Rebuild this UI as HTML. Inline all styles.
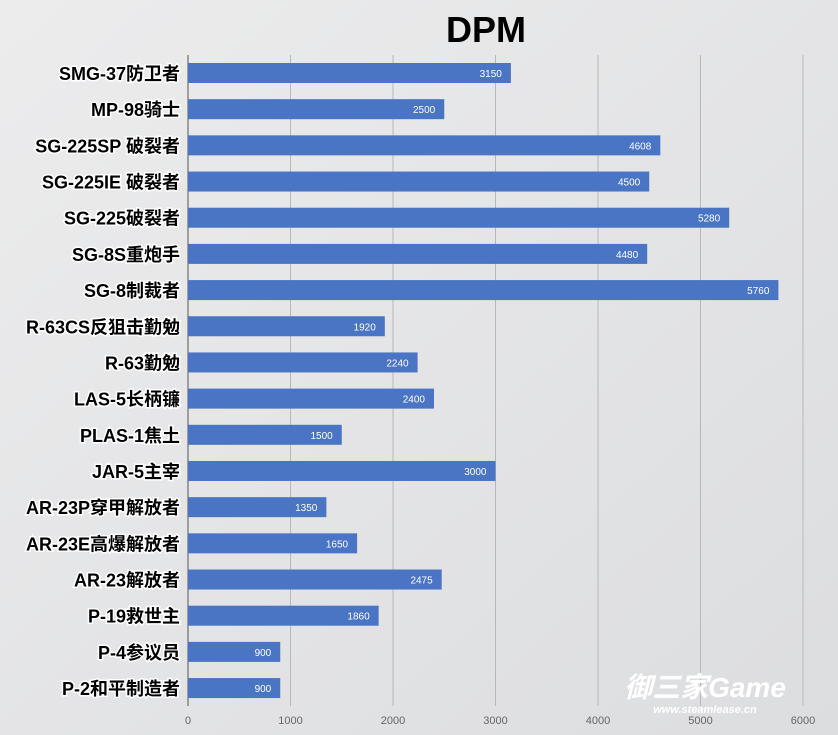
<!DOCTYPE html>
<html><head><meta charset="utf-8"><style>
body{margin:0;background:#e4e5e6;}
svg{display:block}
</style></head><body>
<svg width="838" height="735" xmlns="http://www.w3.org/2000/svg">
<defs><linearGradient id="bg" x1="0" y1="0" x2="1" y2="1"><stop offset="0" stop-color="#ececed"/><stop offset="1" stop-color="#dcdddf"/></linearGradient></defs>
<rect width="838" height="735" fill="url(#bg)"/>
<text x="486" y="42" text-anchor="middle" font-family="Liberation Sans, sans-serif" font-weight="bold" font-size="36" fill="#000">DPM</text>
<g stroke="#b8b8b8" stroke-width="1">
<line x1="290.5" y1="55" x2="290.5" y2="706"/><line x1="393" y1="55" x2="393" y2="706"/><line x1="495.5" y1="55" x2="495.5" y2="706"/><line x1="598" y1="55" x2="598" y2="706"/><line x1="700.5" y1="55" x2="700.5" y2="706"/><line x1="803" y1="55" x2="803" y2="706"/>
</g>
<line x1="188" y1="55" x2="188" y2="706" stroke="#555" stroke-width="1"/>
<g font-family="Liberation Sans, sans-serif" font-size="11" fill="#666" text-anchor="middle">
<text x="188" y="724">0</text><text x="290.5" y="724">1000</text><text x="393" y="724">2000</text><text x="495.5" y="724">3000</text><text x="598" y="724">4000</text><text x="700.5" y="724">5000</text><text x="803" y="724">6000</text>
</g>
<g id="bars" fill="#4a74c4"></g>
<g id="vals" font-family="Liberation Sans, sans-serif" font-size="10" fill="#fff" text-anchor="end"></g>
<g id="labs" font-family="Liberation Sans, 'Noto Sans CJK SC', sans-serif" font-size="18" font-weight="bold" fill="#000" stroke="#fff" stroke-width="3" paint-order="stroke" text-anchor="end"></g>
<text x="705" y="697" text-anchor="middle" font-family="Liberation Sans, 'Noto Sans CJK SC', sans-serif" font-size="28" font-weight="bold" font-style="italic" fill="#fff">御三家Game</text>
<text x="705" y="713" text-anchor="middle" font-family="Liberation Sans, sans-serif" font-size="11" font-weight="bold" font-style="italic" fill="#fff">www.steamlease.cn</text>
<script>
var d=[["SMG-37防卫者",3150],["MP-98骑士",2500],["SG-225SP 破裂者",4608],["SG-225IE 破裂者",4500],["SG-225破裂者",5280],["SG-8S重炮手",4480],["SG-8制裁者",5760],["R-63CS反狙击勤勉",1920],["R-63勤勉",2240],["LAS-5长柄镰",2400],["PLAS-1焦土",1500],["JAR-5主宰",3000],["AR-23P穿甲解放者",1350],["AR-23E高爆解放者",1650],["AR-23解放者",2475],["P-19救世主",1860],["P-4参议员",900],["P-2和平制造者",900]];
var ns="http://www.w3.org/2000/svg";
function el(t,a,p,txt){var e=document.createElementNS(ns,t);for(var k in a)e.setAttribute(k,a[k]);if(txt)e.textContent=txt;document.getElementById(p).appendChild(e);}
d.forEach(function(r,i){var c=73+i*36.18;var w=r[1]*0.1025;
el("rect",{x:188,y:c-10,width:w,height:20},"bars");
el("text",{x:188+w-9,y:c+4},"vals",String(r[1]));
el("text",{x:180,y:c+7},"labs",r[0]);});
</script>
</svg>
</body></html>
